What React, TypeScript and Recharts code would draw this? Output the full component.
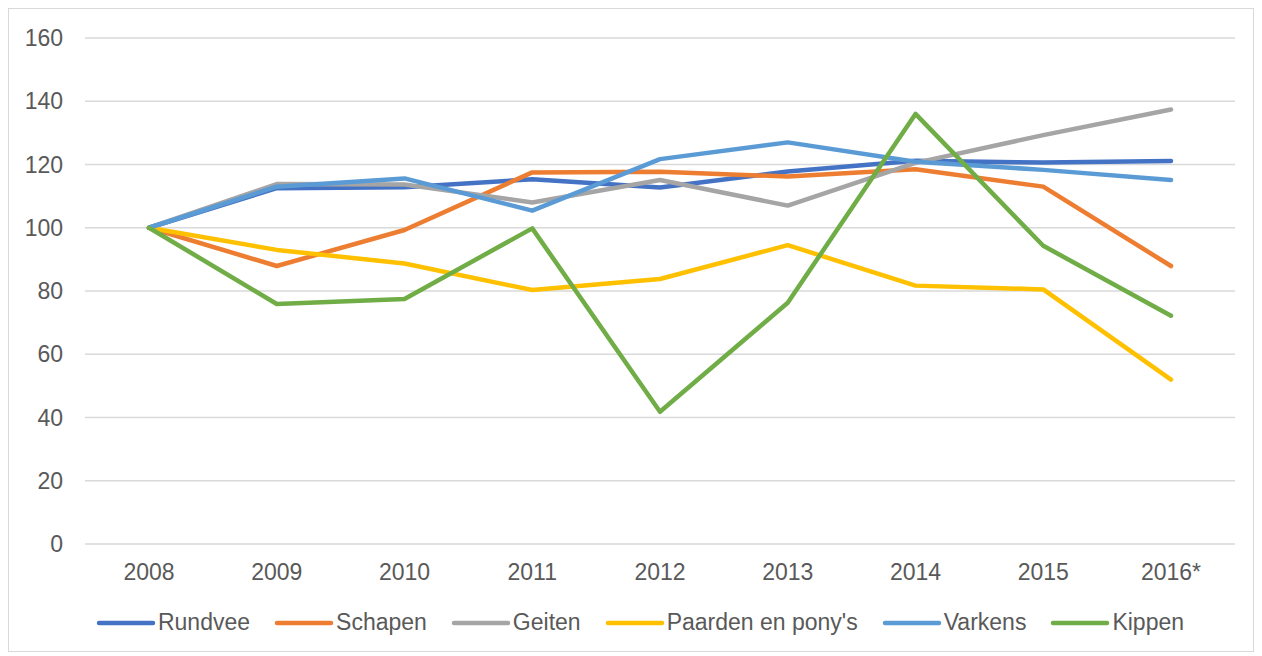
import React from 'react';
import { LineChart, Line, XAxis, YAxis, CartesianGrid, Legend } from 'recharts';

const years = ['2008', '2009', '2010', '2011', '2012', '2013', '2014', '2015', '2016*'];
const rundvee = [100, 112.5, 112.8, 115.3, 112.7, 117.8, 121.2, 120.6, 121.1];
const schapen = [100, 87.9, 99.3, 117.5, 117.7, 116.2, 118.5, 113, 87.9];
const geiten = [100, 113.8, 113.7, 108, 115.1, 107, 120.5, 129.3, 137.4];
const paarden = [100, 93, 88.7, 80.3, 83.8, 94.5, 81.7, 80.5, 52];
const varkens = [100, 113, 115.6, 105.4, 121.7, 127, 120.9, 118.3, 115.1];
const kippen = [100, 75.9, 77.5, 99.8, 41.8, 76.3, 136, 94.3, 72.2];
const yTicks = [0, 20, 40, 60, 80, 100, 120, 140, 160];

const series = [
  { key: 'Rundvee', values: rundvee, color: '#4472C4' },
  { key: 'Schapen', values: schapen, color: '#ED7D31' },
  { key: 'Geiten', values: geiten, color: '#A5A5A5' },
  { key: "Paarden en pony's", values: paarden, color: '#FFC000' },
  { key: 'Varkens', values: varkens, color: '#5B9BD5' },
  { key: 'Kippen', values: kippen, color: '#70AD47' },
];

const data = years.map((y, i) => {
  const row: Record<string, string | number> = { year: y };
  series.forEach((s) => {
    row[s.key] = s.values[i];
  });
  return row;
});

const FONT = '"Liberation Sans", Arial, sans-serif';
const TEXT = '#595959';

const LegendContent = () => (
  <div
    style={{
      display: 'flex',
      justifyContent: 'center',
      alignItems: 'center',
      height: 57,
      paddingLeft: 36,
      fontFamily: FONT,
      fontSize: 23,
      color: TEXT,
    }}
  >
    {series.map((s, i) => (
      <div
        key={s.key}
        style={{ display: 'flex', alignItems: 'center', marginRight: i === series.length - 1 ? 0 : 24 }}
      >
        <svg width={60} height={10} style={{ marginRight: 2 }}>
          <line x1={3} y1={5} x2={57} y2={5} stroke={s.color} strokeWidth={4.5} strokeLinecap="round" />
        </svg>
        <span>{s.key}</span>
      </div>
    ))}
  </div>
);

export default function App() {
  return (
    <div
      style={{
        width: 1246,
        height: 644,
        border: '1px solid #d9d9d9',
        boxSizing: 'border-box',
        background: '#fff',
      }}
    >
      <LineChart
        width={1244}
        height={642}
        data={data}
        margin={{ top: 29, right: 18, left: 0, bottom: 0 }}
      >
        <CartesianGrid vertical={false} stroke="#d9d9d9" strokeWidth={1.3} />
        <XAxis
          dataKey="year"
          axisLine={false}
          tickLine={false}
          tickSize={0}
          tickMargin={20}
          height={50}
          padding={{ left: 64, right: 64 }}
          tick={{ fill: TEXT, fontSize: 23, fontFamily: FONT }}
        />
        <YAxis
          domain={[0, 160]}
          ticks={yTicks}
          interval={0}
          axisLine={false}
          tickLine={false}
          tickSize={0}
          tickMargin={22}
          width={76}
          tick={{ fill: TEXT, fontSize: 23, fontFamily: FONT }}
        />
        <Legend verticalAlign="bottom" content={<LegendContent />} />
        {series.map((s) => (
          <Line
            key={s.key}
            type="linear"
            dataKey={s.key}
            stroke={s.color}
            strokeWidth={4.5}
            strokeLinejoin="round"
            strokeLinecap="round"
            dot={false}
            activeDot={false}
            isAnimationActive={false}
          />
        ))}
      </LineChart>
    </div>
  );
}
